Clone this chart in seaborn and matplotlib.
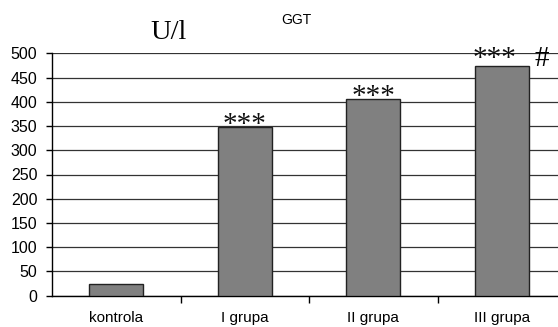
import matplotlib
matplotlib.use("Agg")
import matplotlib.pyplot as plt
import seaborn as sns
import pandas as pd

categories = ["kontrola", "I grupa", "II grupa", "III grupa"]
values = [25, 348, 405, 474]
stars = ["", "***", "***", "***"]
hash_marks = ["", "", "", "#"]
y_ticks = [0, 50, 100, 150, 200, 250, 300, 350, 400, 450, 500]
title = "GGT"
unit = "U/l"

sns.set_theme(style="white")
plt.rcParams["font.family"] = ["Liberation Sans", "DejaVu Sans"]

df = pd.DataFrame({"group": categories, "value": values})

fig = plt.figure(figsize=(5.58, 3.27), dpi=100)
W, H = 558, 327
ax = fig.add_axes([52 / W, (H - 295.7) / H, (566 - 52) / W, (295.7 - 53.3) / H])

ax.yaxis.grid(True, color="#333333", linewidth=0.9, zorder=0)
ax.set_axisbelow(True)

sns.barplot(data=df, x="group", y="value", color="#808080", saturation=1,
            width=0.42, edgecolor="#222222", linewidth=1.0, ax=ax, zorder=3)

ax.set_xlim(-0.5, 3.5)
ax.set_ylim(0, 500)
ax.set_yticks(y_ticks)
ax.set_xlabel("")
ax.set_ylabel("")

for s in ["top", "right"]:
    ax.spines[s].set_visible(False)
for s in ["left", "bottom"]:
    ax.spines[s].set_color("#000000")
    ax.spines[s].set_linewidth(1.0)

ax.tick_params(axis="y", which="major", left=True, length=4, width=1,
               color="#000000", labelsize=11.5, pad=6.5, labelcolor="#000000")
ax.set_xticks([0.5, 1.5, 2.5], minor=True)
ax.tick_params(axis="x", which="major", length=0, labelsize=11, pad=11,
               labelcolor="#000000")
ax.tick_params(axis="x", which="minor", bottom=True, length=5, width=1,
               color="#000000")

serif = ["Liberation Serif", "DejaVu Serif"]
for i, (v, st, hm) in enumerate(zip(values, stars, hash_marks)):
    if st:
        if hm:
            ax.annotate(st, (i, v), xytext=(-5.4, 0), textcoords="offset points",
                        ha="center", va="baseline", fontsize=21, family=serif,
                        color="#111111", zorder=5)
            ax.annotate(hm, (i, v), xytext=(29, 0), textcoords="offset points",
                        ha="center", va="baseline", fontsize=21, family=serif,
                        color="#000000", zorder=5)
        else:
            ax.annotate(st, (i, v), xytext=(0, -3.6), textcoords="offset points",
                        ha="center", va="baseline", fontsize=21, family=serif,
                        color="#111111", zorder=5)

fig.text(296 / W, 1 - 20.5 / H, title, ha="center", va="center", fontsize=10,
         color="#000000")
fig.text(169 / W, 1 - 39 / H, unit, ha="center", va="baseline", fontsize=20.5,
         family=serif, color="#000000")

fig.savefig("out.png", dpi=100)
